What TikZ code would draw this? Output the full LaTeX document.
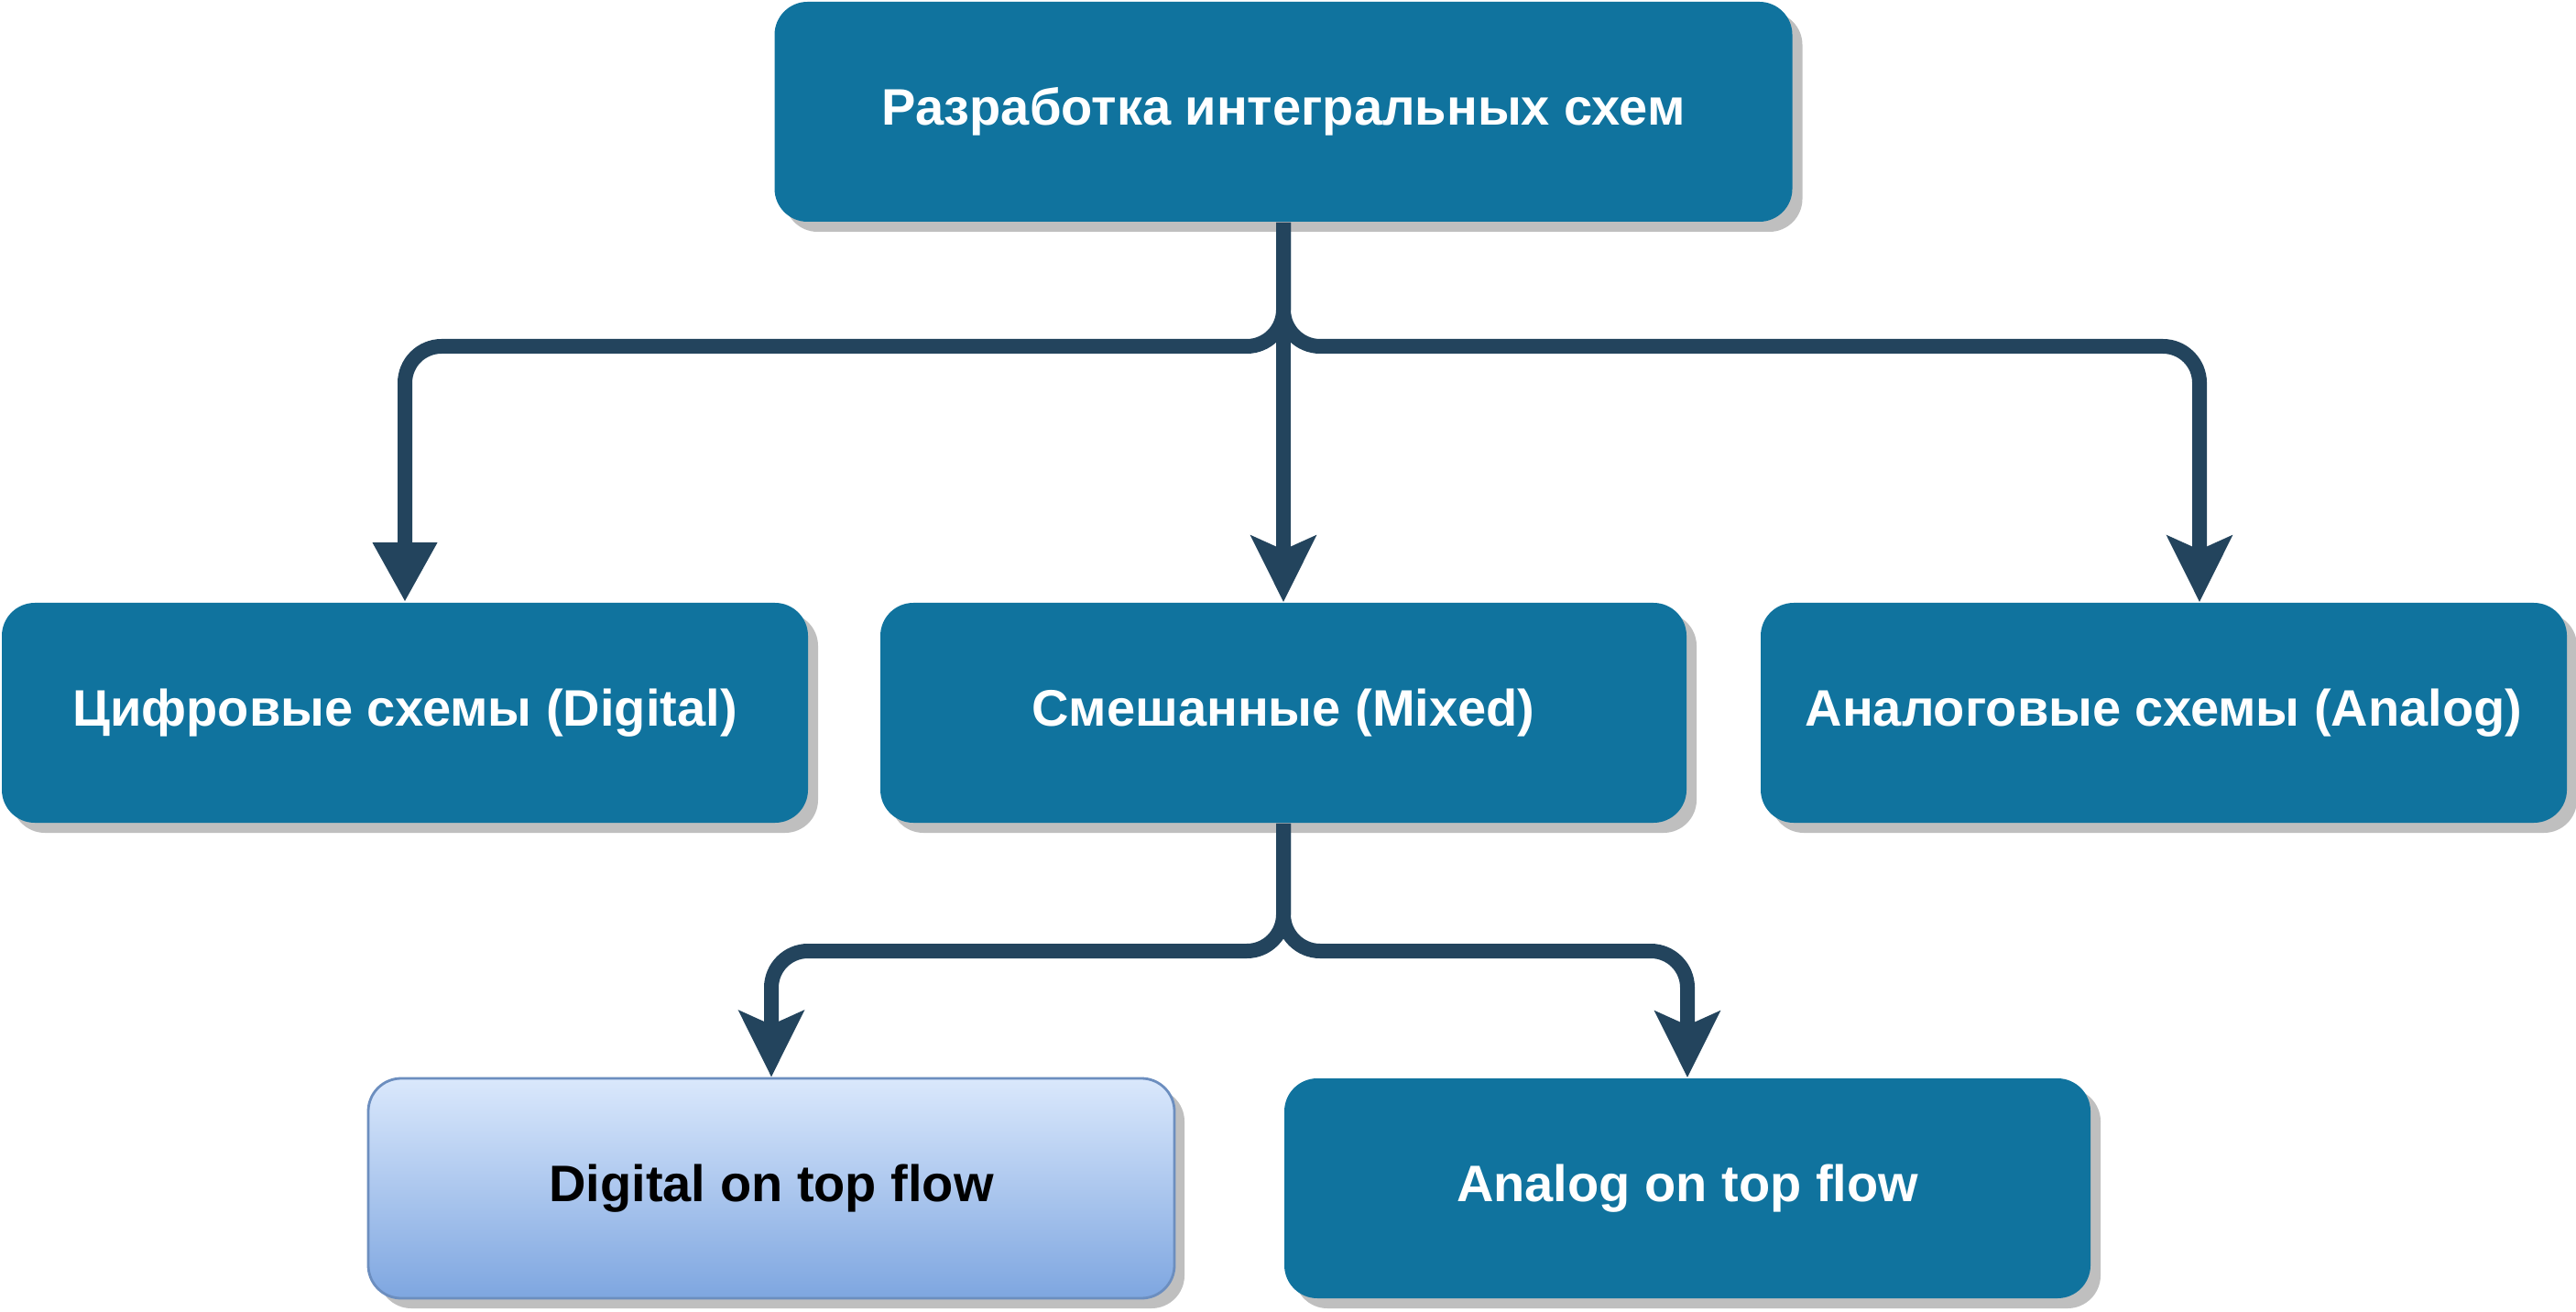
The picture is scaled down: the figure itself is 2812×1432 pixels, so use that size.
\documentclass[tikz,border=0pt]{standalone}
\usepackage{fontspec}
\setmainfont{Liberation Sans}
\usepackage{tikz}
\usetikzlibrary{arrows.meta,shadows}
\definecolor{boxblue}{HTML}{10739E}
\definecolor{edgenavy}{HTML}{23445D}
\definecolor{shadowgray}{HTML}{BFBFBF}
\definecolor{flowtop}{HTML}{DAE8FC}
\definecolor{flowbottom}{HTML}{7EA6E0}
\definecolor{flowborder}{HTML}{6C8EBF}

\begin{document}
\begin{tikzpicture}[x=0.25pt,y=-0.25pt,
    ic node/.style={rectangle,rounded corners=9pt,fill=boxblue,text=white,
      minimum width=220pt,minimum height=60pt,inner sep=0pt,
      font=\fontsize{14}{16}\selectfont\bfseries,
      drop shadow={shadow xshift=2.75pt,shadow yshift=-2.75pt,fill=shadowgray,opacity=1}},
    flow node/.style={ic node,top color=flowtop,bottom color=flowbottom,
      draw=flowborder,line width=0.7pt,text=black},
    link/.style={draw=edgenavy,line width=4pt,rounded corners=10pt,
      -{Stealth[length=18pt,width=17.5pt,inset=3.75pt]}}]
      \useasboundingbox (0,0) rectangle (2812,1432);

      % top and first row
      \node[ic node,minimum width=277.75pt] (design) at (1401,122) {Разработка интегральных схем};
      \node[ic node] (digital) at (442,778) {Цифровые схемы (Digital)};
      \node[ic node] (mixed) at (1401,778) {Смешанные (Mixed)};
      \node[ic node] (analog) at (2362,778) {Аналоговые схемы (Analog)};
      % second row
      \node[flow node] (dtop) at (842,1297) {Digital on top flow};
      \node[ic node] (atop) at (1842,1297) {Analog on top flow};

      \coordinate (fork1) at (1401,378);
      \coordinate (fork2) at (1401,1038);

      \draw[link,-{Triangle[length=16.25pt,width=16.5pt]}] (design.south) -- (fork1) -| (digital.north);
      \draw[link] (design.south) -- (mixed.north);
      \draw[link] (design.south) -- (fork1) -| ([xshift=9.75pt]analog.north);
      %
      \draw[link] (mixed.south) -- (fork2) -| (dtop.north);
      \draw[link] (mixed.south) -- (fork2) -| (atop.north);
\end{tikzpicture}
\end{document}
